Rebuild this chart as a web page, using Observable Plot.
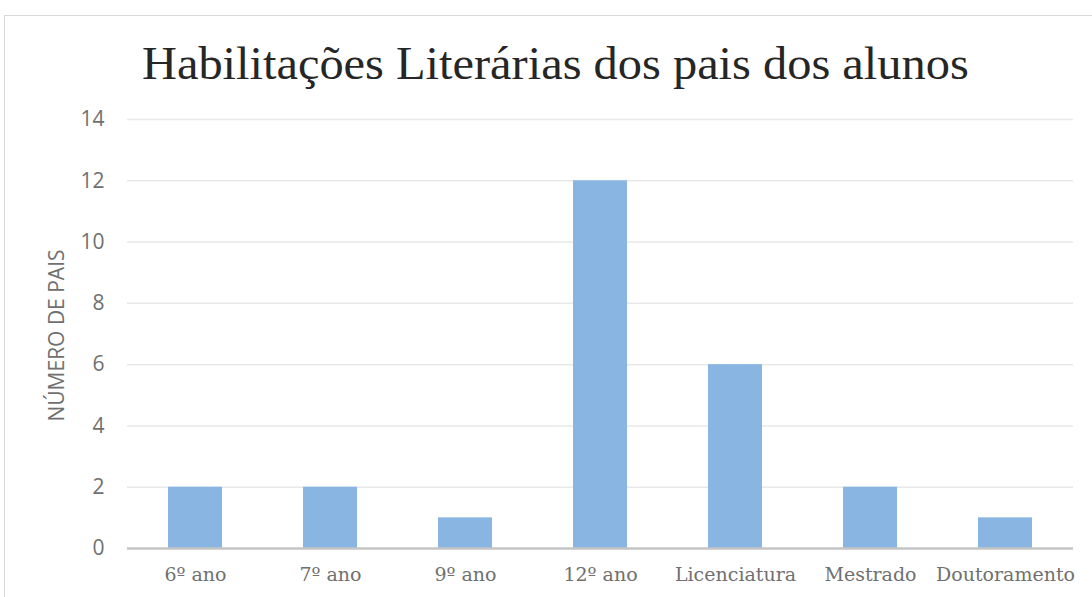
<!DOCTYPE html>
<html>
<head>
<meta charset="utf-8">
<script src="https://cdn.jsdelivr.net/npm/d3@7"></script>
<script src="https://cdn.jsdelivr.net/npm/@observablehq/plot@0.6"></script>
<style>
  body { margin: 0; background: #fff; }
  #wrap { position: relative; width: 1092px; height: 597px; overflow: hidden; background: #fff; }
  #frame { position: absolute; left: 4px; top: 15px; width: 1200px; height: 700px; border: 1px solid #d9d9d9; }
  #title { position: absolute; left: 0; width: 1110px; top: 36px; text-align: center;
           font-family: "Liberation Serif", serif; font-size: 47px; color: #262626; white-space: nowrap; }
  #title span { display: inline-block; transform: scaleX(1.03); transform-origin: center; }
  #chart { position: absolute; left: 0; top: 100px; }
</style>
</head>
<body>
<div id="wrap">
  <div id="frame"></div>
  <div id="title"><span>Habilitações Literárias dos pais dos alunos</span></div>
  <div id="chart"></div>
</div>
<script>
const categories = ["6º ano", "7º ano", "9º ano", "12º ano", "Licenciatura", "Mestrado", "Doutoramento"];
const values = [2, 2, 1, 12, 6, 2, 1];
const yTicks = [0, 2, 4, 6, 8, 10, 12, 14];
const yLabel = "NÚMERO DE PAIS";

const data = categories.map((c, i) => ({category: c, value: values[i]}));

const chart = Plot.plot({
  width: 1092,
  height: 497,
  marginTop: 19,
  marginBottom: 49,
  marginLeft: 127,
  marginRight: 19,
  style: {background: "transparent", overflow: "visible"},
  x: {domain: categories, paddingInner: 0.6, paddingOuter: 0.3, label: null},
  y: {domain: [0, 14], label: null},
  marks: [
    Plot.gridY(yTicks.filter(d => d > 0), {stroke: "#e8e8e8", strokeOpacity: 1, strokeWidth: 1.5}),
    Plot.barY(data, {x: "category", y: "value", fill: "#88b5e2"}),
    Plot.ruleY([0], {stroke: "#c4c4c4", strokeWidth: 2.5}),
    Plot.axisY(yTicks, {tickSize: 0, tickPadding: 23, fontSize: 21, fontFamily: "Open Sans, sans-serif", fill: "#707070", label: null}),
    Plot.axisX({tickSize: 0, tickPadding: 19, fontSize: 19, fontFamily: "DejaVu Serif, serif", fill: "#707070", label: null})
  ]
});
document.getElementById("chart").appendChild(chart);

d3.select(chart).append("text")
  .attr("transform", `translate(58, ${chart.scale("y").apply(7) + 2}) rotate(-90)`)
  .attr("text-anchor", "middle")
  .attr("dominant-baseline", "middle")
  .attr("font-family", "Open Sans, sans-serif")
  .attr("font-size", 21)
  .attr("fill", "#707070")
  .text(yLabel);
</script>
</body>
</html>
